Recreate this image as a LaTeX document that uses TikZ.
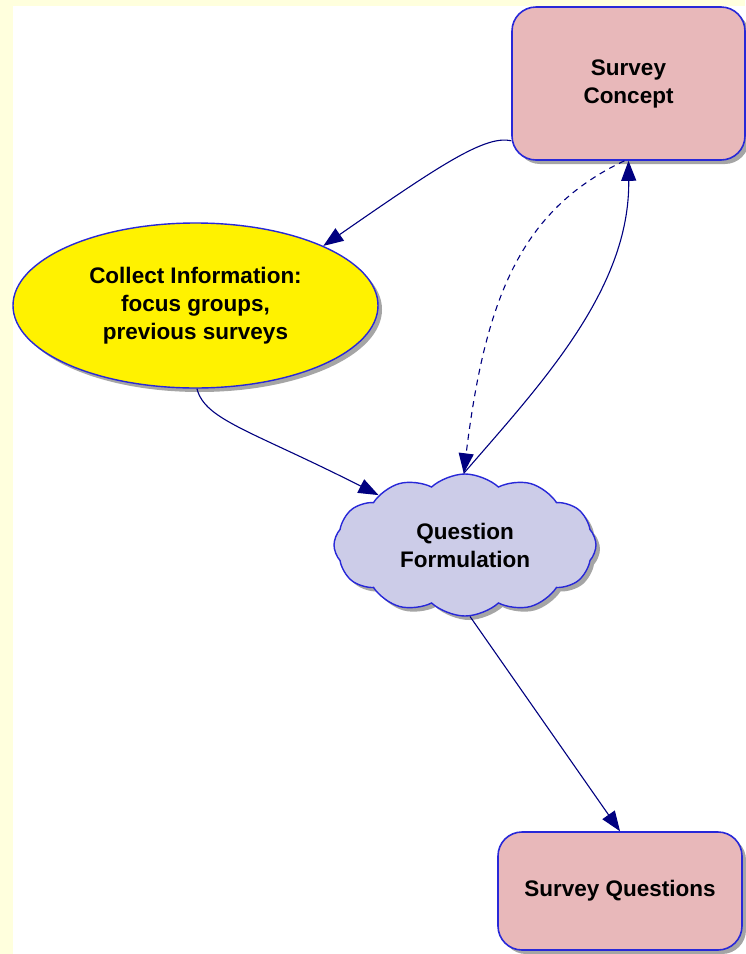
\documentclass[tikz,border=0pt]{standalone}
\usepackage{fontspec}
\setmainfont{Liberation Sans}
\usetikzlibrary{shapes.geometric,shapes.symbols,shadows,arrows.meta}
\definecolor{bandyellow}{HTML}{FFFFDD}
\definecolor{boxpink}{HTML}{E8B8BA}
\definecolor{cloudlav}{HTML}{CCCCE8}
\definecolor{edgeblue}{HTML}{2828D8}
\definecolor{linknavy}{HTML}{000080}
\tikzset{
 boxshadow/.style={drop shadow={shadow xshift=4pt,shadow yshift=-4pt,fill=black!50,opacity=.7}},
 label/.style={align=center,text=black,font=\bfseries\fontsize{22.5}{28}\selectfont},
 box/.style={rectangle,rounded corners=24pt,draw=edgeblue,line width=1.6pt,fill=boxpink,boxshadow,label},
 idea/.style={ellipse,draw=edgeblue,line width=1.4pt,fill=yellow,boxshadow,label},
 puff/.style={cloud,cloud puffs=12,cloud puff arc=85,aspect=1.9,draw=edgeblue,line width=1.4pt,fill=cloudlav,boxshadow,label},
 link/.style={draw=linknavy,line width=1.1pt,-{Triangle[length=20pt,width=15pt]}}
}
\begin{document}
\begin{tikzpicture}[x=1pt,y=-1pt]
\useasboundingbox (0,0) rectangle (745,954);
\fill[bandyellow] (0,0) rectangle (745,954);
\fill[white] (13,6) rectangle (745,954);

\node[box,minimum width=233pt,minimum height=153pt] (concept) at (628.5,83.5) {Survey\\Concept};
\node[idea,minimum width=365pt,minimum height=165pt,inner sep=0pt] (collect) at (195.5,305.5) {Collect Information:\\focus groups,\\previous surveys};
\node[puff,minimum width=262pt,minimum height=142pt,inner sep=0pt] (quest) at (465,545) {Question\\Formulation};
\node[box,minimum width=244pt,minimum height=118pt] (sq) at (620,891) {Survey Questions};

\draw[link] (concept.206) .. controls (485,135) and (440,165) .. (collect.25);
\draw[link] (collect.-89) .. controls (205,420) and (250,430) .. (quest.150);
\draw[link,dash pattern=on 6pt off 5pt] (concept.-93) .. controls (520,210) and (485,300) .. (quest.91);
\draw[link] (quest.91) .. controls (540,385) and (630,290) .. (concept.south);
\draw[link] (quest.-86) -- (sq.north);
\end{tikzpicture}
\end{document}
